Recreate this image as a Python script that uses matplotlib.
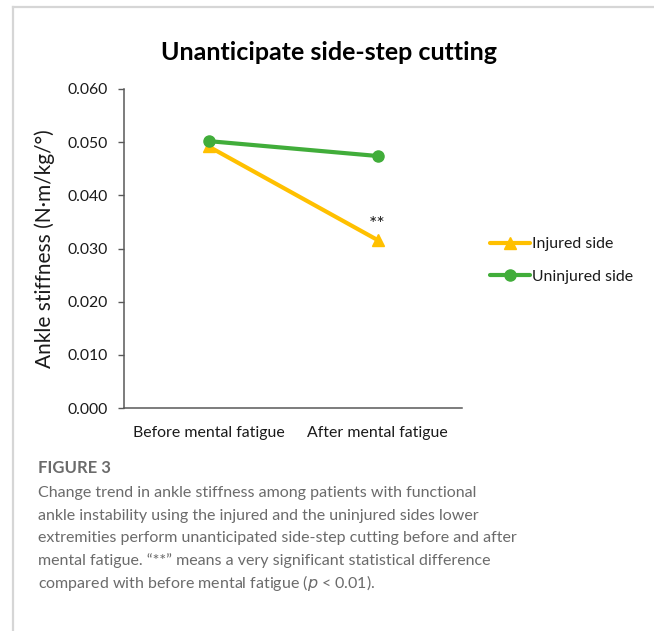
import matplotlib
matplotlib.use("Agg")
import matplotlib.pyplot as plt
from matplotlib.lines import Line2D

# Chart data
conditions = ["Before mental fatigue", "After mental fatigue"]
injured_side = [0.0492, 0.0316]
uninjured_side = [0.0502, 0.0474]
y_ticks = [0.000, 0.010, 0.020, 0.030, 0.040, 0.050, 0.060]
significance = "**"

title_text = "Unanticipate side-step cutting"
y_label = "Ankle stiffness (N\u00b7m/kg/\u00b0)"
caption_head = "FIGURE 3"
caption_lines = [
    "Change trend in ankle stiffness among patients with functional",
    "ankle instability using the injured and the uninjured sides lower",
    "extremities perform unanticipated side-step cutting before and after",
    "mental fatigue. \u201c**\u201d means a very significant statistical difference",
    "compared with before mental fatigue ($\\it{p}$ < 0.01).",
]

W, H = 654, 631
fig = plt.figure(figsize=(W / 100, H / 100), dpi=100)
fig.patch.set_facecolor("white")

def fx(px):
    return px / W

def fy(py):
    return 1 - py / H

# Light frame around the figure panel
fig.add_artist(Line2D([fx(13), fx(654)], [fy(7), fy(7)], color="#d6d6d6", lw=1.6))
fig.add_artist(Line2D([fx(13), fx(13)], [fy(7), fy(631)], color="#d6d6d6", lw=1.6))

font = "Lato"
ink = "#1a1a1a"
axis_col = "#595959"
gold = "#FFC000"
green = "#41AD3A"

ax = fig.add_axes([fx(124), fy(408), fx(462) - fx(124), fy(89) - fy(408)])
x = [0.5, 1.5]
ax.plot(x, injured_side, color=gold, lw=3.0, marker="^", markersize=9,
        label="Injured side", solid_capstyle="round", zorder=3)
ax.plot(x, uninjured_side, color=green, lw=3.0, marker="o", markersize=8,
        label="Uninjured side", solid_capstyle="round", zorder=4)

ax.set_xlim(0, 2)
ax.set_ylim(0, 0.060)
ax.set_yticks(y_ticks)
ax.set_yticklabels([f"{v:.3f}" for v in y_ticks], fontfamily=font, fontsize=11.3, color=ink)
ax.set_xticks(x)
ax.set_xticklabels(conditions, fontfamily=font, fontsize=11.4, color=ink)
ax.tick_params(axis="x", length=0, pad=13)
ax.tick_params(axis="y", direction="out", length=4, width=1, color=axis_col, pad=8)
for side in ["top", "right"]:
    ax.spines[side].set_visible(False)
ax.spines["left"].set_color(axis_col)
ax.spines["bottom"].set_color(axis_col)
ax.spines["left"].set_linewidth(1.1)
ax.spines["bottom"].set_linewidth(1.1)

ax.set_ylabel(y_label, fontfamily=font, fontsize=15, color=ink)
ax.yaxis.set_label_coords((fx(45) - fx(124)) / (fx(462) - fx(124)), 0.5)
ax.yaxis.label.set_verticalalignment("center")

ax.annotate(significance, xy=(x[1], injured_side[1]), xytext=(0, 5),
            textcoords="offset points", ha="center", va="bottom",
            fontfamily=font, fontsize=14, color=ink)

fig.text(fx(329), fy(52), title_text, ha="center", va="center",
         fontfamily=font, fontsize=18, fontweight="bold", color="#000000")

leg = ax.legend(loc="upper left", bbox_to_anchor=(fx(484), fy(231)),
                bbox_transform=fig.transFigure, frameon=False,
                prop={"family": font, "size": 11.4}, handlelength=2.5,
                handletextpad=0.1, labelspacing=1.15, borderaxespad=0)
for t in leg.get_texts():
    t.set_color(ink)

cap_col = "#6b6b6b"
fig.text(fx(38), fy(468), caption_head, ha="left", va="center",
         fontfamily=font, fontsize=12, fontweight="bold", color=cap_col)
for i, line in enumerate(caption_lines):
    fig.text(fx(38), fy(493 + 22.6 * i), line, ha="left", va="center",
             fontfamily=font, fontsize=11.5, color=cap_col)

fig.savefig("out.png", dpi=100, facecolor="white")
